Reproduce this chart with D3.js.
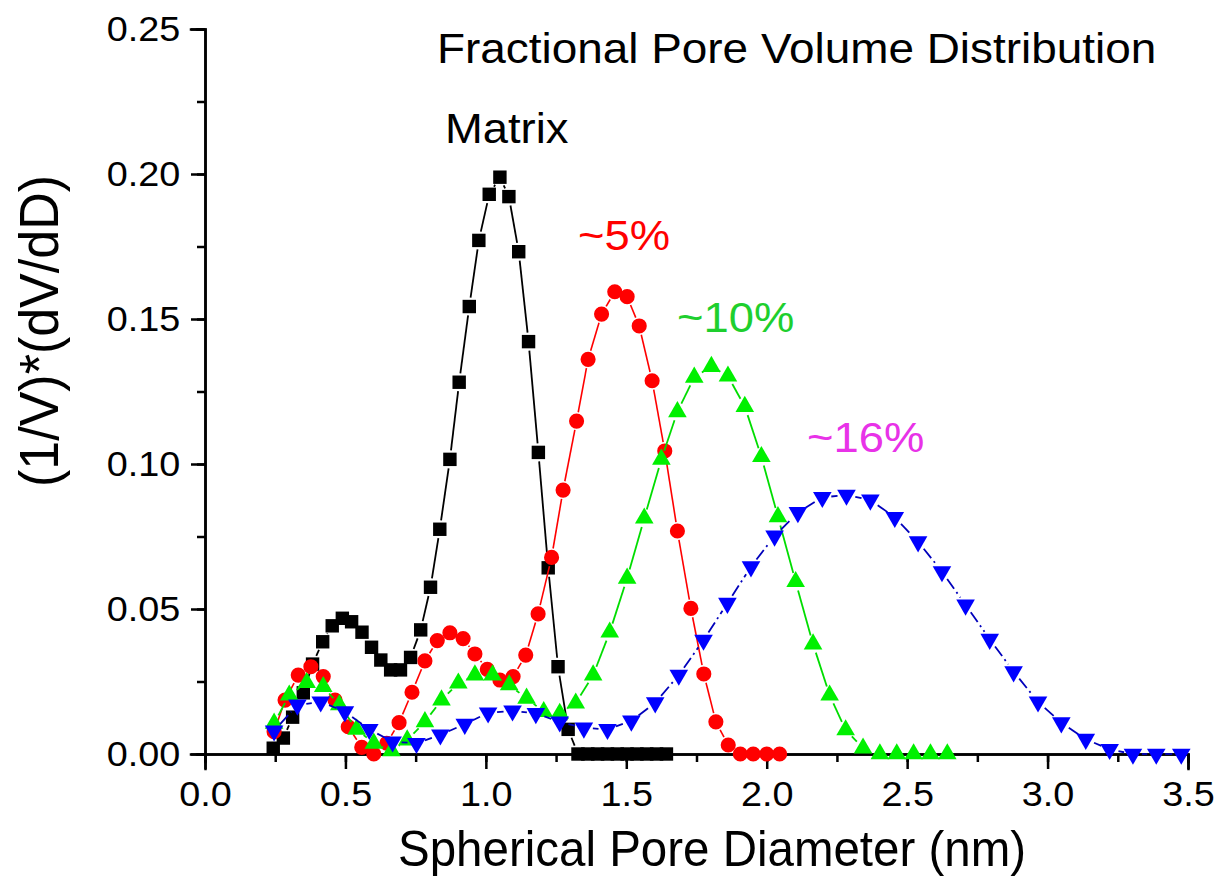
<!DOCTYPE html>
<html>
<head>
<meta charset="utf-8">
<script src="https://cdn.jsdelivr.net/npm/d3@7"></script>
<style>
  body { margin: 0; background: #fff; }
  text { font-family: "Liberation Sans", Arial, sans-serif; }
</style>
</head>
<body>
<svg id="chart" width="1218" height="878"></svg>
<script>
var matrixX = [0.243,0.279,0.312,0.350,0.383,0.419,0.453,0.489,0.522,0.559,0.593,0.626,0.661,0.696,0.732,0.768,0.803,0.836,0.872,0.905,0.941,0.975,1.012,1.050,1.082,1.117,1.152,1.187,1.222,1.257,1.293,1.328,1.363,1.398,1.433,1.468,1.503,1.538,1.573,1.608,1.643];
var matrixY = [0.002,0.0055,0.0127,0.0211,0.031,0.0387,0.0442,0.0468,0.0456,0.042,0.0368,0.0324,0.029,0.029,0.0333,0.0428,0.0575,0.0775,0.1016,0.1282,0.1543,0.1771,0.193,0.1989,0.1922,0.1732,0.1422,0.104,0.0642,0.0301,0.0085,0,0,0,0,0,0,0,0,0,0];

var pct5X = [0.246,0.285,0.332,0.377,0.421,0.463,0.510,0.558,0.601,0.647,0.691,0.737,0.783,0.827,0.872,0.919,0.961,1.005,1.050,1.097,1.142,1.186,1.234,1.275,1.323,1.364,1.412,1.459,1.503,1.546,1.592,1.637,1.682,1.730,1.776,1.819,1.863,1.906,1.952,2.000,2.046];
var pct5Y = [0.0077,0.0186,0.0272,0.0301,0.0267,0.0186,0.0094,0.0023,0,0.0037,0.0108,0.0213,0.0321,0.0391,0.0418,0.0398,0.0345,0.0292,0.0255,0.0267,0.0341,0.0483,0.0678,0.091,0.1148,0.1361,0.1517,0.1594,0.1577,0.1476,0.1287,0.1045,0.0769,0.0502,0.0276,0.0111,0.0031,0,0,0,0];

var pct10X = [0.246,0.300,0.362,0.421,0.478,0.540,0.601,0.664,0.720,0.783,0.842,0.902,0.961,1.024,1.083,1.145,1.206,1.263,1.320,1.382,1.441,1.503,1.564,1.625,1.682,1.742,1.803,1.862,1.922,1.981,2.040,2.103,2.165,2.224,2.281,2.343,2.403,2.463,2.523,2.583,2.643];
var pct10Y = [0.0106,0.0203,0.0246,0.0232,0.0169,0.0085,0.0037,0.0011,0.0048,0.0111,0.0186,0.0244,0.0272,0.0272,0.0238,0.0192,0.0146,0.014,0.0175,0.0272,0.042,0.0606,0.0813,0.1016,0.118,0.1299,0.1336,0.1303,0.1198,0.1025,0.0818,0.0594,0.0379,0.0203,0.0083,0.002,0,0,0,0,0];

var pct16X = [0.246,0.329,0.412,0.498,0.585,0.668,0.753,0.838,0.925,1.008,1.095,1.178,1.263,1.349,1.433,1.518,1.603,1.687,1.775,1.860,1.944,2.028,2.111,2.198,2.284,2.369,2.456,2.539,2.624,2.708,2.794,2.879,2.966,3.049,3.136,3.221,3.304,3.387,3.476];
var pct16Y = [0.008,0.0169,0.018,0.0146,0.0085,0.0042,0.0037,0.0066,0.0103,0.0142,0.0149,0.014,0.0111,0.009,0.0085,0.0114,0.0177,0.0272,0.0393,0.052,0.0646,0.0752,0.0833,0.0885,0.0893,0.0876,0.0816,0.0732,0.0629,0.0514,0.0396,0.0284,0.018,0.0108,0.0051,0.0016,0,0,0];

var xMajor = [0, 0.5, 1.0, 1.5, 2.0, 2.5, 3.0, 3.5];
var yMajor = [0, 0.05, 0.10, 0.15, 0.20, 0.25];

var svg = d3.select('#chart');
var SX = 1.08; // the source image is a bit wider than plain Arial

var x = d3.scaleLinear().domain([0, 3.5]).range([205, 1188]);
var y = d3.scaleLinear().domain([0, 0.25]).range([754, 29]);

svg.append('rect').attr('width', 1218).attr('height', 878).attr('fill', '#fff');

// axes: minor ticks first, then labelled major ticks
var xMinorAxis = d3.axisBottom(x).tickValues(d3.range(0, 3.51, 0.25)).tickSize(8).tickFormat('');
var xAxis = d3.axisBottom(x).tickValues(xMajor).tickSize(15).tickPadding(12).tickFormat(d3.format('.1f'));
var yMinorAxis = d3.axisLeft(y).tickValues(d3.range(0, 0.251, 0.025)).tickSize(8).tickFormat('');
var yAxis = d3.axisLeft(y).tickValues(yMajor).tickSize(14).tickPadding(9).tickFormat(d3.format('.2f'));

function styleAxis(g){
  g.selectAll('path,line').attr('stroke', '#000').attr('stroke-width', 2.5);
  g.selectAll('text').attr('fill', '#000').attr('font-size', 35)
    .attr('transform', 'scale(' + SX + ',1)');
}

svg.append('g').attr('transform', 'translate(0,754)').call(xMinorAxis).call(styleAxis);
svg.append('g').attr('transform', 'translate(0,754)').call(xAxis).call(styleAxis);
svg.append('g').attr('transform', 'translate(205,0)').call(yMinorAxis).call(styleAxis);
svg.append('g').attr('transform', 'translate(205,0)').call(yAxis).call(styleAxis);
svg.selectAll('.domain').attr('stroke-linecap', 'square');

// series with the line broken around each symbol
function drawSeries(xs, ys, opt){
  var pts = xs.map(function(v, i){ return [x(v), y(ys[i])]; });
  var segs = [];
  for (var i = 0; i < pts.length - 1; i++) {
    var a = pts[i], b = pts[i + 1];
    var dx = b[0] - a[0], dy = b[1] - a[1], d = Math.sqrt(dx * dx + dy * dy);
    if (d <= 2 * opt.gap) continue;
    var ux = dx / d, uy = dy / d;
    segs.push([a[0] + ux * opt.gap, a[1] + uy * opt.gap, b[0] - ux * opt.gap, b[1] - uy * opt.gap]);
  }
  var g = svg.append('g');
  g.selectAll('line').data(segs).enter().append('line')
    .attr('x1', function(s){ return s[0]; })
    .attr('y1', function(s){ return s[1]; })
    .attr('x2', function(s){ return s[2]; })
    .attr('y2', function(s){ return s[3]; })
    .attr('stroke', opt.line)
    .attr('stroke-width', opt.width)
    .attr('stroke-dasharray', opt.dash || null);

  var sym = d3.symbol().type(opt.symbol).size(opt.size);
  g.selectAll('path.pt').data(pts).enter().append('path')
    .attr('class', 'pt')
    .attr('d', sym)
    .attr('transform', function(p){ return 'translate(' + p[0] + ',' + p[1] + ')' + (opt.flip ? ' rotate(180)' : ''); })
    .attr('fill', opt.fill);
}

drawSeries(matrixX, matrixY, {symbol: d3.symbolSquare, size: 180, fill: '#000', line: '#000', width: 1.8, gap: 9});
drawSeries(pct5X, pct5Y, {symbol: d3.symbolCircle, size: 180, fill: '#ff0000', line: '#ff0000', width: 1.6, gap: 9});
drawSeries(pct10X, pct10Y, {symbol: d3.symbolTriangle, size: 150, fill: '#00f000', line: '#00dd00', width: 1.8, gap: 9});
drawSeries(pct16X, pct16Y, {symbol: d3.symbolTriangle, size: 150, fill: '#0000ff', line: '#0000bb', width: 1.8, gap: 9, flip: true, dash: '12,4,2,4'});

// text
function label(txt, px, py, size, color){
  svg.append('text')
    .attr('transform', 'translate(' + px + ',' + py + ') scale(' + SX + ',1)')
    .attr('font-size', size)
    .attr('fill', color)
    .text(txt);
}

label('Fractional Pore Volume Distribution', 437, 63, 42.5, '#000');
label('Matrix', 445, 143, 42, '#000');
label('~5%', 578, 250, 42, '#ff0000');
label('~10%', 677, 332, 42, '#1ecf2e');
label('~16%', 807, 452, 42, '#e832e8');

svg.append('text')
  .attr('transform', 'translate(712,866) scale(0.95,1)')
  .attr('text-anchor', 'middle')
  .attr('font-size', 50)
  .attr('fill', '#000')
  .text('Spherical Pore Diameter (nm)');

svg.append('text')
  .attr('transform', 'translate(58,331) scale(' + SX + ',1) rotate(-90)')
  .attr('text-anchor', 'middle')
  .attr('font-size', 52)
  .attr('fill', '#000')
  .text('(1/V)*(dV/dD)');
</script>
</body>
</html>
